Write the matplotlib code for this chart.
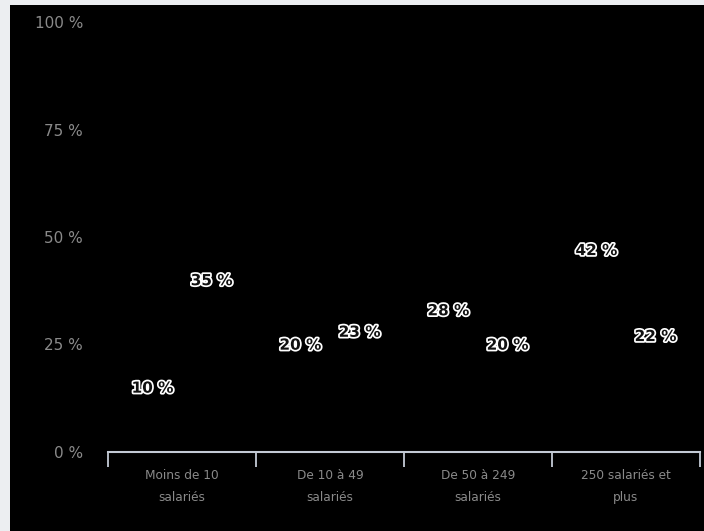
import matplotlib as mpl
import matplotlib.pyplot as plt
import matplotlib.patheffects as pe
from matplotlib.patches import Rectangle
import numpy as np

# data
categories = ['Moins de 10\nsalariés', 'De 10 à 49\nsalariés',
              'De 50 à 249\nsalariés', '250 salariés et\nplus']
serie_a = [10, 20, 28, 42]
serie_b = [35, 23, 20, 22]
yticks = [0, 25, 50, 75, 100]

bg_color = '#000000'
frame_color = '#eceef1'
txt_color = '#8a8a8a'
ax_color = '#c3cad5'

mpl.rcParams['font.family'] = ['DejaVu Sans']

f = plt.figure(figsize=(7.04, 5.31), dpi=100, facecolor=frame_color)
# black plotting zone inside the light frame
f.patches.append(Rectangle((10/704, 0), 1, 1 - 5/531, transform=f.transFigure,
                           facecolor=bg_color, edgecolor='none', zorder=-10))

ax = f.add_axes([108/704, (531-452)/531, 592/704, 430/531])
ax.set_zorder(5)
ax.set_facecolor('none')

x = np.arange(len(categories))
w = 0.4
bars_a = ax.bar(x - 0.2, serie_a, w, color=bg_color)
bars_b = ax.bar(x + 0.2, serie_b, w, color=bg_color)

for bars, vals in [(bars_a, serie_a), (bars_b, serie_b)]:
    for b, v in zip(bars, vals):
        ax.annotate(f'{v} %', (b.get_x() + b.get_width()/2, v),
                    textcoords='offset points', xytext=(0, 15),
                    ha='center', va='center', fontsize=11, fontweight='bold',
                    color='#111111',
                    path_effects=[pe.withStroke(linewidth=2.5, foreground='white')])

ax.set_xlim(-0.5, 3.5)
ax.set_ylim(0, 100)

for s in ['top', 'right', 'left']:
    ax.spines[s].set_visible(False)
ax.spines['bottom'].set_color(ax_color)
ax.spines['bottom'].set_linewidth(1.5)

# group boundaries as major ticks, names as minor ticks
ax.set_xticks([-0.5, 0.5, 1.5, 2.5, 3.5])
ax.set_xticklabels([])
ax.tick_params(axis='x', which='major', length=11, width=1.3, color=ax_color)
ax.set_xticks(x, minor=True)
ax.set_xticklabels(categories, minor=True, fontsize=8.7, color=txt_color,
                   linespacing=1.9)
ax.tick_params(axis='x', which='minor', length=0, pad=12)

ax.set_yticks(yticks)
ax.set_yticklabels([f'{t} %' for t in yticks], fontsize=11, color=txt_color)
ax.tick_params(axis='y', length=0, pad=18)

f.savefig('out.png', dpi=100, facecolor=frame_color)
